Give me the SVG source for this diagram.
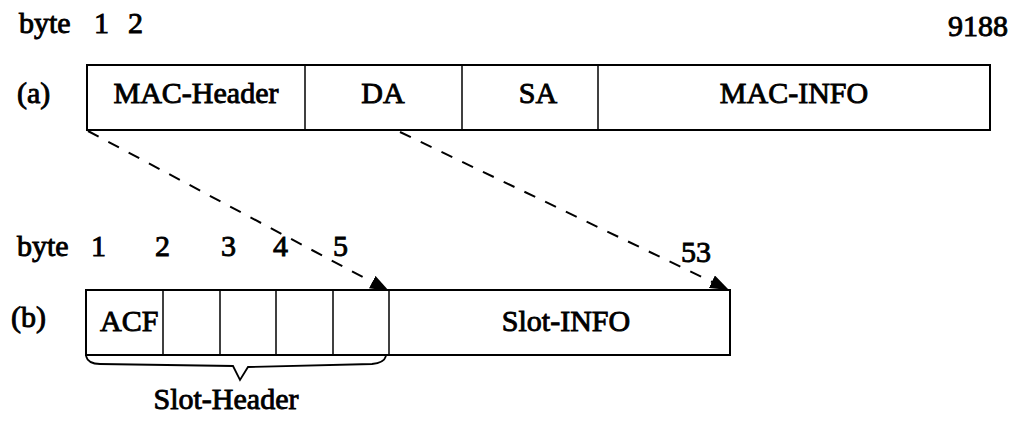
<svg xmlns="http://www.w3.org/2000/svg" width="1016" height="425" viewBox="0 0 1016 425">
<style>
text{font-family:"Liberation Serif","Times New Roman",serif;font-size:30px;font-weight:normal;fill:#000;stroke:#000;stroke-width:0.9}
.c{text-anchor:middle}
.box{fill:none;stroke:#000;stroke-width:2}
.div{stroke:#000;stroke-width:1.5}
.dash{fill:none;stroke:#000;stroke-width:2;stroke-dasharray:12 11}
</style>
<defs>
<marker id="ah" markerUnits="userSpaceOnUse" markerWidth="20" markerHeight="14" refX="19" refY="7" orient="auto">
<path d="M0,0 L19,7 L0,14 z" fill="#000"/>
</marker>
</defs>
<rect width="1016" height="425" fill="#fff"/>
<g id="labels-a">
<text x="19" y="33">byte</text>
<text x="94" y="33">1</text>
<text x="128" y="33">2</text>
<text x="1008" y="36" text-anchor="end">9188</text>
<text x="17" y="103">(a)</text>
</g>
<g id="frame-a">
<rect class="box" x="87" y="65" width="903" height="65"/>
<line class="div" x1="305" y1="65" x2="305" y2="130"/>
<line class="div" x1="462" y1="65" x2="462" y2="130"/>
<line class="div" x1="598" y1="65" x2="598" y2="130"/>
</g>
<g id="mac-header"><text class="c" x="196" y="103">MAC-Header</text></g>
<g id="da"><text class="c" x="383" y="103">DA</text></g>
<g id="sa"><text class="c" x="538" y="103">SA</text></g>
<g id="mac-info"><text class="c" x="794" y="103">MAC-INFO</text></g>
<g id="labels-b">
<text x="17" y="256">byte</text>
<text x="91" y="256">1</text>
<text x="155" y="256">2</text>
<text x="221" y="256">3</text>
<text x="273" y="256">4</text>
<text x="333" y="256">5</text>
<text x="681" y="262">53</text>
<text x="11" y="327">(b)</text>
</g>
<g id="frame-b">
<rect class="box" x="86" y="290" width="644" height="65"/>
<line class="div" x1="163" y1="290" x2="163" y2="355"/>
<line class="div" x1="220" y1="290" x2="220" y2="355"/>
<line class="div" x1="276" y1="290" x2="276" y2="355"/>
<line class="div" x1="333" y1="290" x2="333" y2="355"/>
<line class="div" x1="389" y1="290" x2="389" y2="355"/>
</g>
<g id="acf"><text x="100" y="331">ACF</text></g>
<g id="slot-info"><text class="c" x="566" y="331">Slot-INFO</text></g>
<g id="slot-header">
<path d="M86,356 Q88,364 100,364 L233,366 L240,380 L248,367 L372,364 Q384,363 386,356" fill="none" stroke="#000" stroke-width="1.8"/>
<text class="c" x="226" y="409">Slot-Header</text>
</g>
<g id="connectors">
<line class="dash" x1="88" y1="131" x2="389" y2="291" marker-end="url(#ah)"/>
<line class="dash" x1="400" y1="132" x2="729" y2="290" marker-end="url(#ah)"/>
</g>
</svg>
